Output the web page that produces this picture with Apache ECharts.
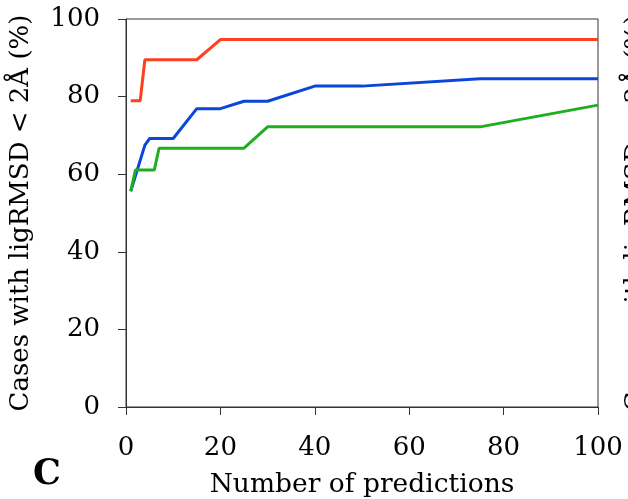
<!DOCTYPE html>
<html>
<head>
<meta charset="utf-8">
<script src="https://cdn.jsdelivr.net/npm/echarts@6/dist/echarts.min.js"></script>
<style>
  html, body { margin: 0; padding: 0; background: #fff; }
  #chart-container { width: 628px; height: 499px; }
</style>
</head>
<body>
<div id="chart-container"></div>
<script>
// number of predictions (x) and % of cases per method
const redX = [1, 3, 4, 15, 20, 100];
const redY = [78.9, 78.9, 89.5, 89.5, 94.7, 94.7];
const blueX = [1, 4, 5, 10, 15, 20, 25, 30, 40, 50, 75, 100];
const blueY = [55.6, 67.5, 69.2, 69.2, 76.9, 76.9, 78.8, 78.8, 82.7, 82.7, 84.6, 84.6];
const greenX = [1, 2, 6, 7, 25, 30, 75, 100];
const greenY = [55.6, 61.1, 61.1, 66.7, 66.7, 72.2, 72.2, 77.8];
const xTicks = [0, 20, 40, 60, 80, 100];
const yTicks = [0, 20, 40, 60, 80, 100];
const yTitle = 'Cases with ligRMSD < 2Å (%)';

const font = 'DejaVu Serif';

function pairs(xs, ys) {
    let out = [];
    for (let i = 0; i < xs.length; i++) {
        out.push([xs[i], ys[i]]);
    }
    return out;
}

function makeLine(name, xs, ys, color) {
    return {
        name: name,
        type: 'line',
        data: pairs(xs, ys),
        color: color,
        showSymbol: false,
        lineStyle: { width: 3, color: color },
        animation: false
    };
}

let dom = document.getElementById('chart-container');
let myChart = echarts.init(dom, null, { renderer: 'canvas' });

let option = {
    backgroundColor: '#fff',
    animation: false,
    grid: {
        left: 126, right: 30, top: 19, bottom: 92,
        show: true, borderColor: '#333', borderWidth: 1,
        containLabel: false,
        outerBoundsMode: 'none'
    },
    xAxis: {
        type: 'value',
        min: xTicks[0], max: xTicks[xTicks.length - 1], interval: 20,
        name: 'Number of predictions',
        nameLocation: 'middle',
        nameGap: 65,
        nameTextStyle: { fontFamily: font, fontSize: 26.5, color: '#000' },
        axisLine: { show: true, lineStyle: { color: '#333', width: 1 } },
        axisTick: { show: true, length: 8, lineStyle: { color: '#333' } },
        axisLabel: { fontFamily: font, fontSize: 26, color: '#000', margin: 28 },
        splitLine: { show: false }
    },
    yAxis: {
        type: 'value',
        min: yTicks[0], max: yTicks[yTicks.length - 1], interval: 20,
        name: yTitle,
        nameLocation: 'middle',
        nameGap: 92,
        nameTextStyle: { fontFamily: font, fontSize: 26, color: '#000' },
        axisLine: { show: true, lineStyle: { color: '#333', width: 1 } },
        axisTick: { show: true, length: 8, lineStyle: { color: '#333' } },
        axisLabel: { fontFamily: font, fontSize: 26, color: '#000', margin: 26 },
        splitLine: { show: false }
    },
    graphic: [
        {
            type: 'text',
            left: 33, top: 457,
            style: { text: 'C', fontFamily: font, fontSize: 35, fontWeight: 'bold', fill: '#000' }
        },
        {
            // title of the neighbouring panel, cut off by the right edge
            type: 'text',
            x: 636, y: 213,
            rotation: Math.PI / 2,
            style: {
                text: yTitle, fontFamily: font, fontSize: 26, fill: '#000',
                align: 'center', verticalAlign: 'middle'
            }
        }
    ],
    series: [
        makeLine('A', redX, redY, '#ff4020'),
        makeLine('B', blueX, blueY, '#0a46dc'),
        makeLine('C', greenX, greenY, '#1fae1f')
    ]
};

myChart.setOption(option);
window.addEventListener('resize', myChart.resize);
</script>
</body>
</html>
